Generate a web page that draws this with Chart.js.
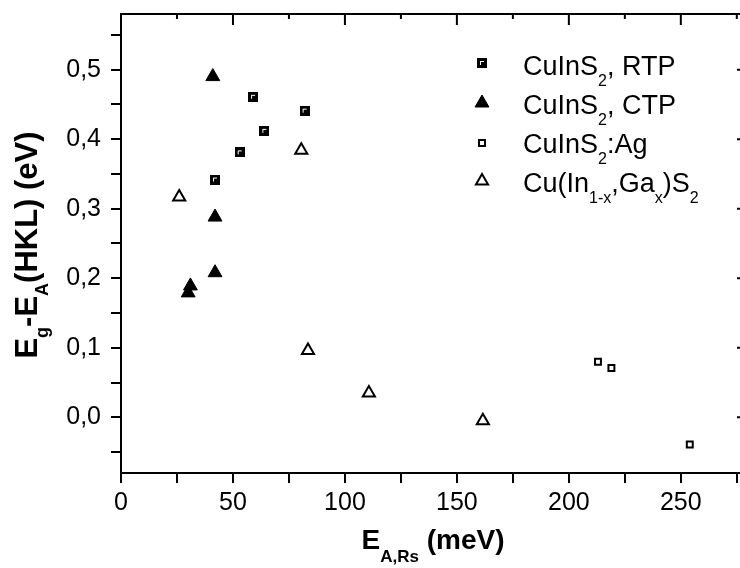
<!DOCTYPE html>
<html>
<head>
<meta charset="utf-8">
<script src="https://cdn.jsdelivr.net/npm/chart.js@4.4.0/dist/chart.umd.min.js"></script>
<style>
html, body { margin: 0; padding: 0; overflow: hidden; background: #fff; }
#wrap { width: 760px; height: 568px; }
</style>
</head>
<body>
<div id="wrap"><canvas id="chart" width="760" height="568"></canvas></div>
<script>
// values
const rtpX = [42, 53, 59, 64, 82];
const rtpY = [0.342, 0.381, 0.461, 0.412, 0.441];
const ctpX = [41, 42, 42, 31, 30];
const ctpY = [0.490, 0.288, 0.208, 0.189, 0.179];
const agX = [213, 219, 254];
const agY = [0.080, 0.071, -0.039];
const cigsX = [26, 80.5, 83.5, 110.7, 161.6];
const cigsY = [0.317, 0.384, 0.096, 0.035, -0.005];

const seriesNames = ['CuInS_{2}, RTP', 'CuInS_{2}, CTP', 'CuInS_{2}:Ag', 'Cu(In_{1-x},Ga_{x})S_{2}'];

const xMajor = [0, 50, 100, 150, 200, 250];
const xMinor = [25, 75, 125, 175, 225, 275];
const yMajor = [0.0, 0.1, 0.2, 0.3, 0.4, 0.5];
const yMinor = [-0.05, 0.05, 0.15, 0.25, 0.35, 0.45, 0.55];
const yLabels = ['0,0', '0,1', '0,2', '0,3', '0,4', '0,5'];

const xTitle = 'E_{A,Rs} (meV)';
const yTitle = 'E_{g}-E_{A}(HKL) (eV)';

const FONT = '"Liberation Sans", Arial, sans-serif';

function toPts(xs, ys) {
  return xs.map((x, i) => ({ x: x, y: ys[i] }));
}

// "E_{g}" -> [{t:'E'}, {t:'g', sub:true}]
function parseRich(str) {
  const parts = [];
  const re = /_\{([^}]*)\}/g;
  let last = 0, m;
  while ((m = re.exec(str)) !== null) {
    if (m.index > last) parts.push({ t: str.slice(last, m.index) });
    parts.push({ t: m[1], sub: true });
    last = re.lastIndex;
  }
  if (last < str.length) parts.push({ t: str.slice(last) });
  return parts;
}

function richWidth(ctx, parts, size, subSize, weight) {
  let w = 0;
  parts.forEach(p => {
    ctx.font = weight + ' ' + (p.sub ? subSize : size) + 'px ' + FONT;
    w += ctx.measureText(p.t).width;
  });
  return w;
}

function drawRich(ctx, parts, x, y, size, subSize, drop, weight) {
  let cx = x;
  parts.forEach(p => {
    ctx.font = weight + ' ' + (p.sub ? subSize : size) + 'px ' + FONT;
    ctx.fillText(p.t, cx, y + (p.sub ? drop : 0));
    cx += ctx.measureText(p.t).width;
  });
}

// filled square with the small white corner mark
const rtpMark = document.createElement('canvas');
rtpMark.width = 10;
rtpMark.height = 10;
(function () {
  const c = rtpMark.getContext('2d');
  c.fillStyle = '#000';
  c.fillRect(0, 0, 10, 10);
  c.fillStyle = '#fff';
  c.fillRect(3, 3, 4, 1);
  c.fillRect(3, 3, 1, 4);
})();

const framePlugin = {
  id: 'frame',
  afterDraw(chart) {
    const ctx = chart.ctx;
    const a = chart.chartArea;
    const xs = chart.scales.x, ys = chart.scales.y;
    ctx.save();
    ctx.strokeStyle = '#000';
    ctx.lineWidth = 2;
    ctx.beginPath();
    ctx.moveTo(a.left - 1, a.top);
    ctx.lineTo(a.right, a.top);
    ctx.lineTo(a.right, a.bottom + 1);
    xMajor.forEach(v => { const p = xs.getPixelForValue(v); ctx.moveTo(p, a.top); ctx.lineTo(p, a.top + 11); });
    xMinor.forEach(v => { const p = xs.getPixelForValue(v); ctx.moveTo(p, a.top); ctx.lineTo(p, a.top + 5); });
    yMajor.forEach(v => { const p = ys.getPixelForValue(v); ctx.moveTo(a.right, p); ctx.lineTo(a.right - 11, p); });
    yMinor.forEach(v => { const p = ys.getPixelForValue(v); ctx.moveTo(a.right, p); ctx.lineTo(a.right - 5, p); });
    ctx.stroke();

    // axis titles
    ctx.fillStyle = '#000';
    ctx.textAlign = 'left';
    ctx.textBaseline = 'alphabetic';
    const xt = parseRich(xTitle);
    const xw = richWidth(ctx, xt, 28, 17, 'bold');
    drawRich(ctx, xt, 433 - xw / 2, 549, 28, 17, 13, 'bold');

    const yt = parseRich(yTitle);
    const yw = richWidth(ctx, yt, 31, 18, 'bold');
    ctx.save();
    ctx.translate(37, 245);
    ctx.rotate(-Math.PI / 2);
    drawRich(ctx, yt, -yw / 2, 0, 31, 18, 11, 'bold');
    ctx.restore();

    // legend
    const rowsMark = [63, 103, 143, 181];
    const rowsText = [75, 114, 153, 192];
    chart.data.datasets.forEach((ds, i) => {
      ctx.fillStyle = ds.backgroundColor;
      ctx.strokeStyle = ds.borderColor;
      ctx.lineWidth = ds.borderWidth;
      Chart.helpers.drawPoint(ctx, {
        pointStyle: ds.pointStyle, radius: ds.pointRadius, rotation: 0, borderWidth: ds.borderWidth
      }, 482, rowsMark[i]);
      ctx.fillStyle = '#000';
      drawRich(ctx, parseRich(seriesNames[i]), 523, rowsText[i], 27, 16, 11, 'normal');
    });
    ctx.restore();
  }
};

const chart = new Chart(document.getElementById('chart').getContext('2d'), {
  type: 'scatter',
  data: {
    datasets: [{
      label: 'CuInS2, RTP',
      data: toPts(rtpX, rtpY),
      pointStyle: rtpMark,
      pointRadius: 5,
      backgroundColor: '#000',
      borderColor: '#000',
      borderWidth: 1
    }, {
      label: 'CuInS2, CTP',
      data: toPts(ctpX, ctpY),
      pointStyle: 'triangle',
      pointRadius: 8,
      backgroundColor: '#000',
      borderColor: '#000',
      borderWidth: 1
    }, {
      label: 'CuInS2:Ag',
      data: toPts(agX, agY),
      pointStyle: 'rect',
      pointRadius: 4.2,
      backgroundColor: '#fff',
      borderColor: '#000',
      borderWidth: 2
    }, {
      label: 'Cu(In1-x,Gax)S2',
      data: toPts(cigsX, cigsY),
      pointStyle: 'triangle',
      pointRadius: 7,
      backgroundColor: '#fff',
      borderColor: '#000',
      borderWidth: 2
    }]
  },
  options: {
    responsive: false,
    animation: false,
    devicePixelRatio: 1,
    layout: { padding: { top: 14, right: 12, left: 0, bottom: 0 } },
    plugins: {
      legend: { display: false },
      tooltip: { enabled: false }
    },
    scales: {
      x: {
        type: 'linear',
        min: 0,
        max: 280,
        afterBuildTicks: s => {
          s.ticks = xMajor.concat(xMinor).sort((a, b) => a - b).map(v => ({ value: v }));
        },
        afterFit: s => {
          s.height = 95;
          s.paddingLeft = 0;
          s.paddingRight = 0;
        },
        ticks: {
          autoSkip: false,
          maxRotation: 0,
          padding: 5,
          color: '#000',
          font: { family: FONT, size: 25 },
          callback: v => xMajor.includes(v) ? String(v) : ''
        },
        grid: { drawOnChartArea: false, drawTicks: true, tickLength: 10, color: '#000', lineWidth: 2 },
        border: { display: true, color: '#000', width: 2 }
      },
      y: {
        type: 'linear',
        min: -0.08,
        max: 0.58,
        afterBuildTicks: s => {
          s.ticks = yMajor.concat(yMinor).sort((a, b) => a - b).map(v => ({ value: v }));
        },
        afterFit: s => {
          s.width = 121;
          s.paddingTop = 0;
          s.paddingBottom = 0;
        },
        ticks: {
          autoSkip: false,
          padding: 10,
          color: '#000',
          font: { family: FONT, size: 25 },
          callback: v => {
            const i = yMajor.findIndex(m => Math.abs(m - v) < 1e-6);
            return i >= 0 ? yLabels[i] : '';
          }
        },
        grid: { drawOnChartArea: false, drawTicks: true, tickLength: 10, color: '#000', lineWidth: 2 },
        border: { display: true, color: '#000', width: 2 }
      }
    }
  },
  plugins: [framePlugin]
});
</script>
</body>
</html>
